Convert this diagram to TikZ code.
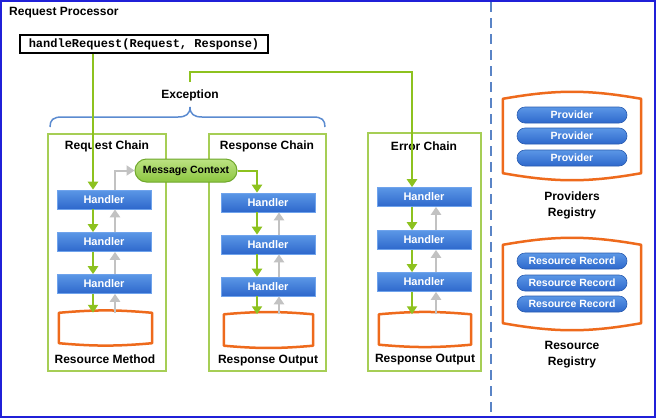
\documentclass[tikz,border=0pt]{standalone}
\usepackage{fontspec}
\setmainfont{Liberation Sans}
\setmonofont{Liberation Mono}
\usetikzlibrary{arrows.meta,calc}
\definecolor{frameblue}{HTML}{2020D8}
\definecolor{dashblue}{HTML}{5A84C6}
\definecolor{gline}{HTML}{8DC21F}
\definecolor{gframe}{HTML}{A6CE55}
\definecolor{grayline}{HTML}{C2C2C2}
\definecolor{hbtop}{HTML}{5B97E6}
\definecolor{hbbot}{HTML}{2E68CC}
\definecolor{hbdraw}{HTML}{6FA3EC}
\definecolor{pilldraw}{HTML}{2A5CB0}
\definecolor{tapeorange}{HTML}{EE6A1C}
\definecolor{bracecol}{HTML}{5B8BD0}
\definecolor{mctop}{HTML}{BCE283}
\definecolor{mcbot}{HTML}{8CC63F}
\definecolor{mcdraw}{HTML}{6FA82C}
\tikzset{
 lbl/.style={font=\fontsize{12}{16}\selectfont\bfseries, inner sep=0pt, align=center},
 handler/.style={minimum width=94pt, minimum height=19pt, inner sep=0pt, top color=hbtop, bottom color=hbbot, draw=hbdraw, line width=0.6pt, text=white, font=\fontsize{11}{13}\selectfont\bfseries},
 pill/.style={minimum width=110pt, minimum height=16pt, rounded corners=8pt, inner sep=0pt, top color=hbtop, bottom color=hbbot, draw=pilldraw, line width=0.6pt, text=white, font=\fontsize{10.5}{12}\selectfont\bfseries},
 chainframe/.style={draw=gframe, line width=1.5pt, inner sep=0pt},
 tapebox/.style={inner sep=0pt},
 tapeline/.style={draw=tapeorange, line width=2.5pt, line join=round},
 garrow/.style={draw=gline, line width=2pt, -{Triangle[width=10pt,length=8pt]}},
 grarrow/.style={draw=grayline, line width=2pt, -{Triangle[width=10pt,length=8pt]}},
}
\begin{document}
\begin{tikzpicture}[x=1pt,y=-1pt]
\useasboundingbox (0,0) rectangle (656,418);
\draw[frameblue, line width=2pt] (1,1) rectangle (655,417);
\draw[dashblue, line width=1.5pt, dash pattern=on 10pt off 6pt] (491,2) -- (491,416);
\node[lbl, anchor=west] (title) at (9,13) {Request Processor};
\node[draw, line width=1.5pt, minimum width=248pt, minimum height=18pt, inner sep=0pt, font=\fontsize{12}{14}\selectfont\ttfamily\bfseries] (hr) at (144,44) {handleRequest(Request, Response)};

% chain frames
\node[chainframe, minimum width=118pt, minimum height=237pt] (rqf) at (107,252.5) {};
\node[chainframe, minimum width=117pt, minimum height=237pt] (rsf) at (267.5,252.5) {};
\node[chainframe, minimum width=113pt, minimum height=238pt] (erf) at (424.5,252) {};
\node[lbl] (rqt) at (107,146) {Request Chain};
\node[lbl] (rst) at (267,146) {Response Chain};
\node[lbl] (ert) at (424,146) {Error Chain};

% exception
\node[lbl, inner ysep=7pt] (exc) at (190,95) {Exception};
\draw[bracecol, line width=1.5pt] (50,127) .. controls (50,120) and (53,117) .. (62,117) -- (178,117) .. controls (186,117) and (190,114) .. (190,107) .. controls (190,114) and (194,117) .. (202,117) -- (313,117) .. controls (322,117) and (325,120) .. (325,127);

% handlers
\node[handler] (rq1) at (104,199.5) {Handler};
\node[handler] (rq2) at (104,242) {Handler};
\node[handler] (rq3) at (104,284) {Handler};
\node[handler] (rs1) at (268,202.5) {Handler};
\node[handler] (rs2) at (268,244.5) {Handler};
\node[handler] (rs3) at (268,286.5) {Handler};
\node[handler] (er1) at (424,197) {Handler};
\node[handler] (er2) at (424,240) {Handler};
\node[handler] (er3) at (424,282) {Handler};

% tapes
\node[tapebox, minimum width=93pt, minimum height=30pt] (rqm) at (105.5,328) {};
\node[tapebox, minimum width=89pt, minimum height=31pt] (rso) at (268.5,330) {};
\node[tapebox, minimum width=92pt, minimum height=30pt] (ero) at (425,329.5) {};
\foreach \n in {rqm,rso,ero}{
  \draw[tapeline] (\n.north west) to[bend left=5] (\n.north east) -- (\n.south east) to[bend left=5] (\n.south west) -- cycle;
}
\node[lbl] (rqml) at (105,359) {Resource Method};
\node[lbl] (rsol) at (268,361) {Response Output};
\node[lbl] (erol) at (425,360) {Response Output};

% message context
\node[minimum width=102pt, minimum height=23pt, rounded corners=11.5pt, inner sep=0pt, top color=mctop, bottom color=mcbot, draw=mcdraw, line width=1pt, font=\fontsize{10.5}{12}\selectfont\bfseries] (mc) at (186,170.5) {Message Context};

% registries
\node[tapebox, minimum width=138pt, minimum height=74pt] (prg) at (572,136) {};
\node[tapebox, minimum width=138pt, minimum height=78pt] (rrg) at (572,284) {};
\foreach \n in {prg,rrg}{
  \draw[tapeline] (\n.north west) to[bend left=10] (\n.north east) -- (\n.south east) to[bend left=10] (\n.south west) -- cycle;
}
\node[pill] (p1) at (572,115) {Provider};
\node[pill] (p2) at (572,136) {Provider};
\node[pill] (p3) at (572,158) {Provider};
\node[pill] (r1) at (572,261) {Resource Record};
\node[pill] (r2) at (572,283) {Resource Record};
\node[pill] (r3) at (572,304) {Resource Record};
\node[lbl] (prgl) at (572,205) {Providers\\Registry};
\node[lbl] (rrgl) at (572,354.5) {Resource\\Registry};

% connector x positions
\coordinate (xq1) at (93,0);
\coordinate (xq2) at (115,0);
\coordinate (xs1) at (257,0);
\coordinate (xs2) at (279,0);
\coordinate (xe1) at (412,0);
\coordinate (xe2) at (436,0);
\coordinate (excy) at (0,72);

% request chain
\draw[garrow] (xq1 |- hr.south) -- (xq1 |- rq1.north);
\draw[garrow] (xq1 |- rq1.south) -- (xq1 |- rq2.north);
\draw[garrow] (xq1 |- rq2.south) -- (xq1 |- rq3.north);
\draw[garrow] (xq1 |- rq3.south) -- (xq1 |- rqm.north);
\draw[grarrow] (xq2 |- rqm.north) -- (xq2 |- rq3.south);
\draw[grarrow] (xq2 |- rq3.north) -- (xq2 |- rq2.south);
\draw[grarrow] (xq2 |- rq2.north) -- (xq2 |- rq1.south);
\draw[grarrow] (xq2 |- rq1.north) |- (mc.west);

% response chain
\draw[garrow] (mc.east) -| (xs1 |- rs1.north);
\draw[garrow] (xs1 |- rs1.south) -- (xs1 |- rs2.north);
\draw[garrow] (xs1 |- rs2.south) -- (xs1 |- rs3.north);
\draw[garrow] (xs1 |- rs3.south) -- (xs1 |- rso.north);
\draw[grarrow] (xs2 |- rso.north) -- (xs2 |- rs3.south);
\draw[grarrow] (xs2 |- rs3.north) -- (xs2 |- rs2.south);
\draw[grarrow] (xs2 |- rs2.north) -- (xs2 |- rs1.south);

% error chain
\draw[garrow] (exc.north) |- (excy -| xe1) -- (xe1 |- er1.north);
\draw[garrow] (xe1 |- er1.south) -- (xe1 |- er2.north);
\draw[garrow] (xe1 |- er2.south) -- (xe1 |- er3.north);
\draw[garrow] (xe1 |- er3.south) -- (xe1 |- ero.north);
\draw[grarrow] (xe2 |- ero.north) -- (xe2 |- er3.south);
\draw[grarrow] (xe2 |- er3.north) -- (xe2 |- er2.south);
\draw[grarrow] (xe2 |- er2.north) -- (xe2 |- er1.south);
\end{tikzpicture}
\end{document}
